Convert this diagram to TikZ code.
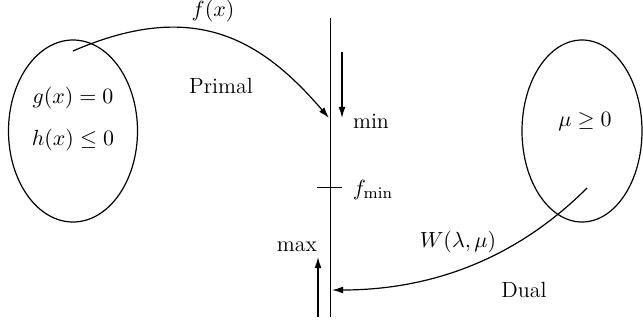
\documentclass[tikz,border=0pt]{standalone}
\usepackage{amsmath,amssymb}
\usepackage{tikz}
\usetikzlibrary{arrows.meta,shapes.geometric}

\begin{document}
\begin{tikzpicture}[
  x=0.5pt, y=-0.5pt,
  set/.style={draw, ellipse, line width=0.6pt, inner sep=0pt,
              minimum height=91pt},
  lbl/.style={inner sep=1pt, font=\fontsize{11}{13}\selectfont},
  >={Latex[length=5.5pt,width=3.4pt]},
  axis/.style={line width=0.5pt},
  flow/.style={->, line width=0.6pt}
]
  \useasboundingbox (0,0) rectangle (643,326);

  % feasible sets
  \node[set, minimum width=64.5pt] (feas)    at (73,131)  {};
  \node[set, minimum width=60pt]   (dualset) at (582,131) {};
  \node[lbl] (gx) at (73,98)  {$g(x) = 0$};
  \node[lbl] (hx) at (73,140) {$h(x) \le 0$};
  \node[lbl] (mu) at (585,122) {$\mu \ge 0$};

  % value axis
  \coordinate (top) at (330,18);
  \coordinate (bot) at (330,317);
  \draw[axis] (top) -- (bot);
  \coordinate (fm) at (330,188);
  \draw[axis] ([xshift=-6.5pt]fm) -- ([xshift=6pt]fm);
  \node[lbl] (fmin) at (373,190) {$f_{\min}$};

  \coordinate (d1) at (342,52);
  \coordinate (d2) at (342,118);
  \draw[flow] (d1) -- (d2);
  \node[lbl] (min) at (371,121) {min};

  \coordinate (u1) at (318,317);
  \coordinate (u2) at (318,257);
  \draw[flow] (u1) -- (u2);
  \node[lbl] (max) at (297,247) {max};

  % primal map
  \coordinate (ps) at (73,51);
  \coordinate (pe) at (329,118);
  \draw[flow] (ps) .. controls (195,-2) and (262,40) .. (pe);
  \node[lbl] (fx) at (213,11) {$f(x)$};
  \node[lbl] (primal) at (221,86) {Primal};

  % dual map
  \coordinate (ds) at (587,188);
  \coordinate (de) at (332,290);
  \draw[flow] (ds) .. controls (510,265) and (422,290) .. (de);
  \node[lbl] (w) at (458,242) {$W(\lambda, \mu)$};
  \node[lbl] (dual) at (524,290) {Dual};
\end{tikzpicture}
\end{document}
